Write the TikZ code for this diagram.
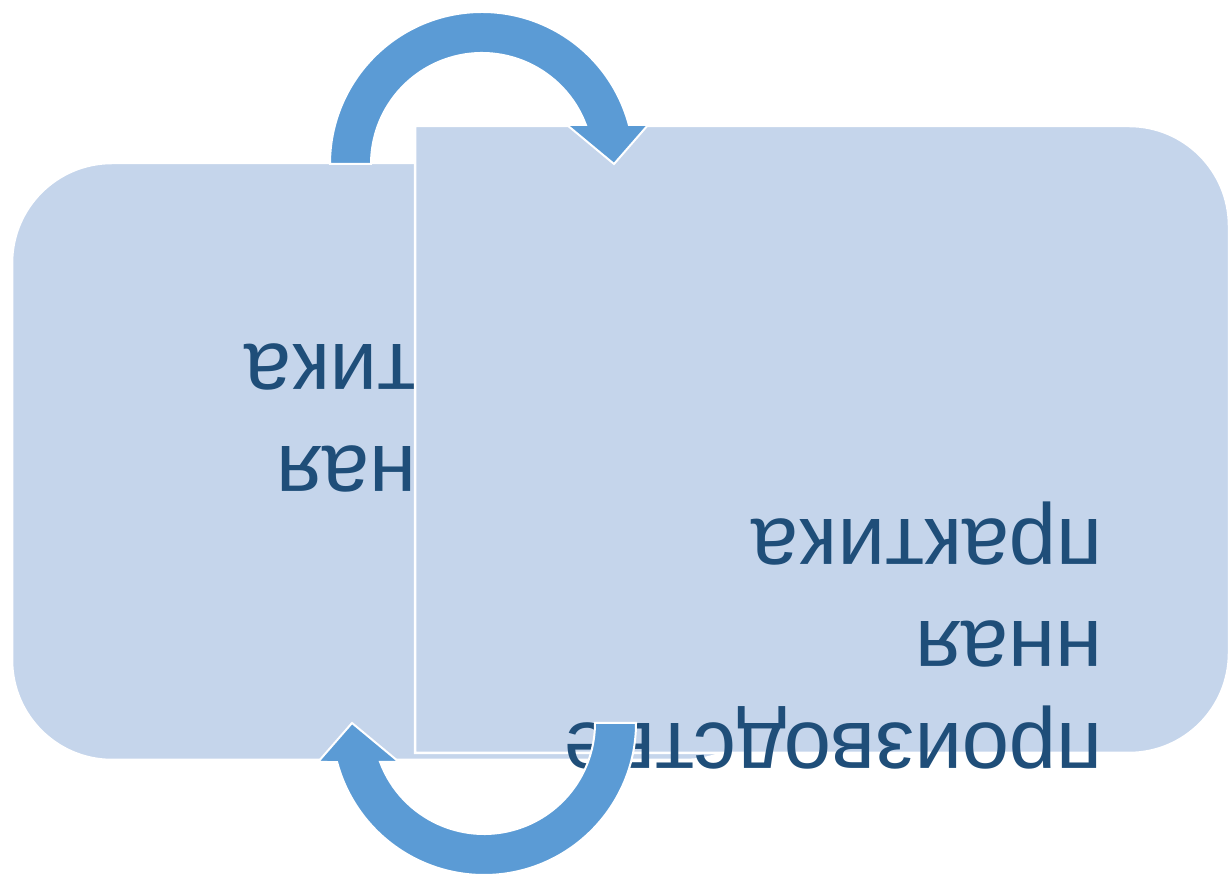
\documentclass[tikz,border=0pt]{standalone}
\usepackage{fontspec}
\setmainfont{Liberation Sans}
\definecolor{boxfill}{HTML}{C5D5EB}
\definecolor{txtblue}{HTML}{1F4E79}
\definecolor{arrowblue}{HTML}{5B9BD5}
\begin{document}
\begin{tikzpicture}[
		x=1pt, y=1pt,
		panel/.style={fill=boxfill, draw=white, line width=2.5pt},
		lbl/.style={text=txtblue, font=\fontsize{85}{102}\selectfont, align=left, inner sep=0pt, rotate=180, anchor=base west},
		cyclearrow/.pic={
			\path[fill=arrowblue, draw=white, line width=2pt]
				(180:152) arc[start angle=180, end angle=14.87, radius=152]
				-- (166,39) -- (132,0) -- (85,39)
				-- (20.57:111) arc[start angle=20.57, end angle=180, radius=111] -- cycle;
		}
		]
		\useasboundingbox (0,0) rectangle (1230,877);
		
		% 1. Left panel (partly hidden)
		\draw[panel, rounded corners=100pt] (12,117) rectangle (785,714);
		\node[lbl] (lefttext) at (417,532) {ная\\тика};
		
		% 2. Right panel
		\draw[panel] (415,751) -- (1129,751) arc[start angle=90, end angle=0, radius=100]
			-- (1229,224) arc[start angle=0, end angle=-90, radius=100] -- (415,124) -- cycle;
		\node[lbl] (righttext) at (1103,357) {производстве\\нная\\практика};
		
		% 3. Arrows
		\coordinate (topc) at (482,713);
		\coordinate (botc) at (484,154);
		\pic at (topc) {cyclearrow};
		\pic[rotate=180] at (botc) {cyclearrow};
	\end{tikzpicture}
\end{document}
